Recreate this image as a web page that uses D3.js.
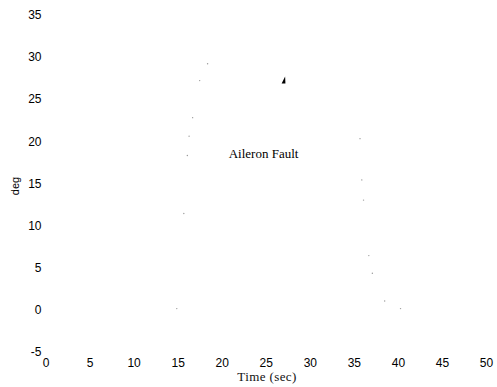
<!DOCTYPE html>
<html>
<head>
<meta charset="utf-8">
<script src="https://cdn.jsdelivr.net/npm/d3@7"></script>
<style>
    body { margin: 0; background: #fff; }
    .tick text { font-family: "Liberation Sans", Arial, sans-serif; font-size: 12px; fill: #000; }
</style>
</head>
<body>
<div id="chart"></div>
<script>
// values (only faint specks of the trace survive)
const faultTime = [14.9, 15.7, 16.1, 16.3, 16.7, 17.5, 18.4, 35.7, 35.9, 36.1, 36.7, 37.1, 38.5, 40.3];
const faultDeg  = [0.1, 11.4, 18.3, 20.6, 22.8, 27.2, 29.2, 20.3, 15.4, 13.0, 6.4, 4.3, 1.0, 0.1];
const xTicks = [0, 5, 10, 15, 20, 25, 30, 35, 40, 45, 50];
const yTicks = [-5, 0, 5, 10, 15, 20, 25, 30, 35];
const annoText = "Aileron Fault";
const annoPos = [20.8, 18.0];
const arrowTip = [27.2, 27.7];

const width = 497, height = 387;
const margin = {top: 15, right: 11, bottom: 35.5, left: 45.5};

const svg = d3.select("#chart").append("svg")
    .attr("width", width)
    .attr("height", height);

const x = d3.scaleLinear().domain([0, 50]).range([margin.left, width - margin.right]);
const y = d3.scaleLinear().domain([-5, 35]).range([height - margin.bottom, margin.top]);

// axes: frame and tick marks have faded out of the scan, only labels remain
svg.append("g")
    .attr("transform", "translate(0," + (height - margin.bottom) + ")")
    .call(d3.axisBottom(x).tickValues(xTicks).tickSize(0).tickPadding(7).tickFormat(d => String(d)))
    .call(g => g.select(".domain").remove());

svg.append("g")
    .attr("transform", "translate(" + margin.left + ",0)")
    .call(d3.axisLeft(y).tickValues(yTicks).tickSize(0).tickPadding(4).tickFormat(d => String(d)))
    .call(g => g.select(".domain").remove());

svg.append("text")
    .attr("x", 267)
    .attr("y", 381)
    .attr("text-anchor", "middle")
    .attr("font-family", "Liberation Serif, Times New Roman, serif")
    .attr("font-size", "13px")
    .attr("letter-spacing", "0.4px")
    .attr("fill", "#111")
    .text("Time (sec)");

svg.append("text")
    .attr("transform", "translate(19,186) rotate(-90)")
    .attr("text-anchor", "middle")
    .attr("font-family", "Liberation Sans, Arial, sans-serif")
    .attr("font-size", "11px")
    .attr("fill", "#000")
    .text("deg");

// surviving specks of the trace
svg.selectAll(".speck").data(faultTime.map((t, i) => [t, faultDeg[i]]))
    .enter().append("circle")
    .attr("class", "speck")
    .attr("cx", d => x(d[0]))
    .attr("cy", d => y(d[1]))
    .attr("r", 0.7)
    .attr("fill", "#999");

// annotation
svg.append("text")
    .attr("x", x(annoPos[0]))
    .attr("y", y(annoPos[1]))
    .attr("font-family", "Liberation Serif, Times New Roman, serif")
    .attr("font-size", "13px")
    .attr("fill", "#000")
    .text(annoText);

const tx = x(arrowTip[0]), ty = y(arrowTip[1]);
svg.append("path")
    .attr("d", "M" + tx + "," + ty + "L" + (tx - 3.5) + "," + (ty + 7) + "L" + (tx + 0.3) + "," + (ty + 7) + "Z")
    .attr("fill", "#000");
</script>
</body>
</html>
